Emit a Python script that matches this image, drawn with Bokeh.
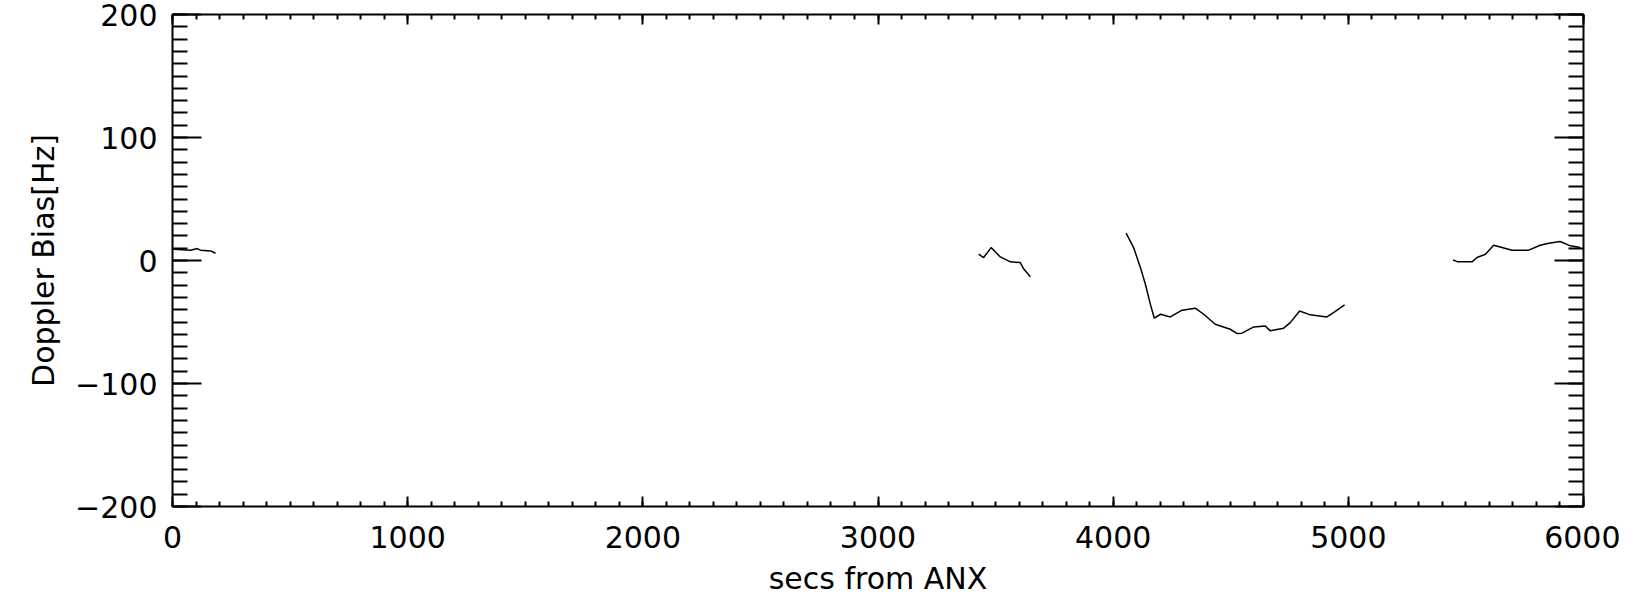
from bokeh.plotting import figure
from bokeh.models import LinearAxis, FixedTicker, Range1d, CustomJSTickFormatter
from bokeh.embed import file_html
from bokeh.resources import INLINE

# ---- data ----
seg1_secs = [6, 77, 105, 119, 162, 183]
seg1_bias = [9.2, 8.4, 9.7, 8.4, 7.8, 5.9]

seg2_secs = [3428, 3449, 3481, 3520, 3563, 3605, 3620, 3648]
seg2_bias = [5.1, 2.4, 10.5, 2.9, -1.1, -1.7, -7.0, -13.3]

seg3_secs = [4055, 4087, 4116, 4137, 4158, 4175, 4201, 4243, 4293, 4349, 4385,
             4434, 4498, 4527, 4548, 4598, 4647, 4668, 4725, 4753, 4793, 4838,
             4909, 4937, 4984]
seg3_bias = [22.2, 10.5, -5.8, -19.3, -35.5, -46.9, -43.7, -45.9, -40.4, -38.8,
             -43.7, -51.8, -55.9, -59.4, -59.1, -54.0, -53.2, -57.2, -55.0,
             -50.5, -41.0, -44.2, -45.9, -42.4, -36.1]

seg4_secs = [5445, 5465, 5526, 5547, 5583, 5618, 5696, 5767, 5816, 5852, 5901,
             5944, 5986]
seg4_bias = [0.5, -1.1, -1.1, 2.4, 5.1, 12.4, 8.4, 8.4, 12.4, 14.1, 15.4, 11.9,
             10.5]

x_ticks = [0, 1000, 2000, 3000, 4000, 5000, 6000]
y_ticks = [-200, -100, 0, 100, 200]
y_tick_labels = {-200: "\u2212200", -100: "\u2212100", 0: "0", 100: "100", 200: "200"}

FONT = "DejaVu Sans"
FS = "30px"

p = figure(width=1620, height=606, output_backend="svg", toolbar_location=None,
           x_range=Range1d(0, 6000), y_range=Range1d(-200, 200),
           x_axis_location=None, y_axis_location=None,
           min_border_left=172, min_border_right=37, min_border_top=14,
           min_border_bottom=100)
p.outline_line_color = None
p.xgrid.visible = False
p.ygrid.visible = False
p.background_fill_color = "white"
p.border_fill_color = "white"

xt = FixedTicker(ticks=x_ticks, minor_ticks=list(range(0, 6001, 100)))
yt = FixedTicker(ticks=y_ticks, minor_ticks=list(range(-200, 201, 10)))

blank = CustomJSTickFormatter(code="return '';")


def style(ax, major_in, minor_in, labels=True):
    ax.axis_line_color = "black"
    ax.axis_line_width = 2
    ax.major_tick_line_color = "black"
    ax.minor_tick_line_color = "black"
    ax.major_tick_line_width = 2
    ax.minor_tick_line_width = 2
    ax.major_tick_out = 0
    ax.minor_tick_out = 0
    ax.major_tick_in = major_in
    ax.minor_tick_in = minor_in
    ax.major_label_text_font = FONT
    ax.major_label_text_font_size = FS
    ax.major_label_text_color = "black"
    ax.axis_label_text_font = FONT
    ax.axis_label_text_font_size = FS
    ax.axis_label_text_font_style = "normal"
    ax.axis_label_text_color = "black"
    if not labels:
        ax.formatter = blank
        ax.major_label_standoff = 0


bottom = LinearAxis(ticker=xt, axis_label="secs from ANX")
style(bottom, 10, 5)
bottom.major_label_standoff = 19
bottom.axis_label_standoff = 10
p.add_layout(bottom, "below")

top = LinearAxis(ticker=xt)
style(top, 10, 5, labels=False)
p.add_layout(top, "above")

left = LinearAxis(ticker=yt, axis_label="Doppler Bias[Hz]",
                  major_label_overrides=y_tick_labels)
style(left, 29, 15)
left.major_label_standoff = 15
left.axis_label_standoff = 11
left.major_label_orientation = "horizontal"
p.add_layout(left, "left")

right = LinearAxis(ticker=yt)
style(right, 29, 15, labels=False)
p.add_layout(right, "right")

for sx, sy in [(seg1_secs, seg1_bias), (seg2_secs, seg2_bias),
               (seg3_secs, seg3_bias), (seg4_secs, seg4_bias)]:
    p.line(sx, sy, line_color="black", line_width=1.5)

open("out.html", "w").write(file_html(p, INLINE))
